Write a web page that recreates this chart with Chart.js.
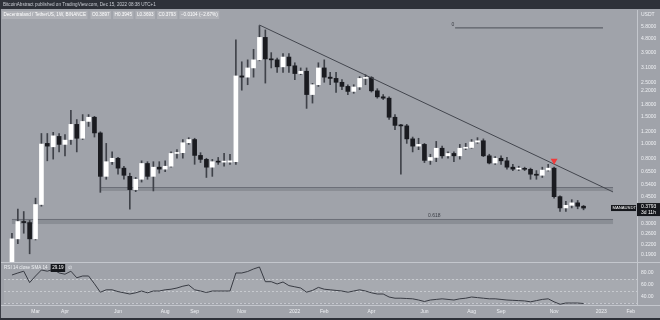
<!DOCTYPE html>
<html><head><meta charset="utf-8">
<script src="https://cdn.jsdelivr.net/npm/chart.js@4.4.1/dist/chart.umd.min.js"></script>
<style>html,body{margin:0;padding:0;background:#a0a3aa;overflow:hidden}</style>
</head><body>
<canvas id="c" width="660" height="320"></canvas>
<script>
// ---- data (weekly MANA/USDT, Binance) ----
const startWeek = '2021-02-01';
const open = [0.165,0.239,0.31,0.305,0.239,0.40,1.0,0.95,1.11,0.985,
1.06,1.33,1.08,1.39,1.48,1.17,0.61,0.76,0.80,0.69,
0.61,0.50,0.584,0.74,0.61,0.70,0.68,0.71,0.86,0.87,
1.01,1.06,0.835,0.787,0.70,0.76,0.755,0.755,0.76,2.75,
2.70,3.1,3.5,4.9,3.55,3.5,3.15,3.65,3.2,2.85,
2.95,2.08,2.41,3.1,2.7,2.65,2.5,2.35,2.18,2.33,
2.65,2.68,2.2,2.01,1.97,1.48,1.31,1.30,1.07,0.96,
0.985,0.775,0.81,0.93,0.83,0.86,0.83,0.93,0.94,1.02,
1.04,0.83,0.745,0.80,0.77,0.70,0.68,0.685,0.678,0.63,
0.62,0.67,0.69,0.45,0.38,0.395,0.41,0.3897];
const high = [0.26,0.373,0.36,0.315,0.44,1.16,1.16,1.18,1.16,1.14,
1.64,1.43,1.54,1.54,1.50,1.19,1.0,0.88,0.81,0.71,
0.64,0.60,0.77,0.76,0.76,0.76,0.77,0.88,0.91,1.06,
1.09,1.08,0.87,0.80,0.787,0.81,0.86,0.85,4.72,3.4,
3.5,4.1,5.85,5.48,3.9,3.6,3.85,3.85,3.35,3.1,
3.1,2.46,3.35,3.5,2.9,2.9,2.6,2.41,2.41,2.72,
2.8,2.72,2.27,2.08,2.01,1.54,1.33,1.33,1.10,1.08,
1.0,0.85,1.03,0.96,0.88,0.88,0.985,1.0,1.06,1.09,
1.07,0.85,0.82,0.83,0.81,0.73,0.71,0.70,0.69,0.665,
0.70,0.73,0.70,0.455,0.42,0.43,0.425,0.3945];
const low = [0.15,0.222,0.26,0.191,0.235,0.39,0.77,0.79,0.88,0.83,
0.985,0.88,1.06,1.29,1.10,0.48,0.584,0.73,0.63,0.584,
0.373,0.485,0.56,0.584,0.49,0.64,0.655,0.70,0.80,0.80,
0.985,0.731,0.75,0.60,0.61,0.73,0.71,0.73,0.73,2.22,
2.41,2.7,3.45,2.47,3.1,2.9,2.9,2.9,2.6,2.8,
1.69,1.83,2.35,2.5,2.41,2.15,2.24,2.08,2.12,2.24,
2.41,2.16,1.97,1.93,1.43,1.23,0.63,1.0,0.88,0.91,
0.75,0.73,0.76,0.80,0.80,0.76,0.79,0.91,0.93,1.0,
0.82,0.735,0.73,0.73,0.68,0.665,0.665,0.665,0.584,0.584,
0.60,0.66,0.44,0.36,0.36,0.38,0.375,0.3693];
const close = [0.239,0.31,0.305,0.239,0.40,0.99,0.96,1.12,0.985,1.05,
1.33,1.08,1.39,1.48,1.17,0.61,0.76,0.80,0.69,0.62,
0.50,0.584,0.74,0.61,0.70,0.68,0.71,0.86,0.87,1.01,
1.06,0.835,0.787,0.70,0.76,0.755,0.76,0.77,2.75,2.70,
3.1,3.5,4.9,3.55,3.5,3.15,3.65,3.2,2.85,2.95,
2.08,2.41,3.1,2.7,2.65,2.5,2.35,2.18,2.33,2.65,
2.68,2.2,2.01,1.97,1.48,1.31,1.30,1.07,0.96,0.985,
0.775,0.81,0.93,0.83,0.86,0.83,0.93,0.94,1.02,1.04,
0.83,0.745,0.80,0.77,0.70,0.68,0.685,0.678,0.63,0.62,
0.67,0.69,0.45,0.38,0.395,0.41,0.3897,0.3793];
const rsi = [76.7,80,83,64,75,85,83,86,80,78,
83,72,75,75,62,48,52,52,49,47,
45,47,50,47,50,50,52,53,55,58,
60,52,50,47.5,50,50,50,50,80,80,
82.5,86.7,90,65.5,65.5,61.7,65,59,57,55,
48,51,56,53,52,51,50,48,50,52,
50,47,45,45,40,38,38,37.5,37,35,
32.5,35,36,37,36,35,37,38,40,39,
38,37,37,36,35,34.5,34,33.5,32,34,
36,37,32,28,30,30,30,29.19];
const priceTicks = [5.8,4.8,3.9,3.1,2.5,2.2,1.8,1.5,1.2,1.0,0.8,0.65,0.54,0.45,0.3,0.26,0.22,0.19];
const rsiTicks = [80,60,40];
const rsiLevels = [70,50,30];
const timeTickDates = ['2021-03-01','2021-04-05','2021-06-07','2021-08-02','2021-09-06','2021-11-01','2022-01-03','2022-02-07','2022-04-04','2022-06-06','2022-08-01','2022-09-05','2022-11-07','2023-01-02','2023-02-06'];
const timeTickLabels = ['Mar','Apr','Jun','Aug','Sep','Nov','2022','Feb','Apr','Jun','Aug','Sep','Nov','2023','Feb'];
const trendFrom = [42, 5.9];
const trendTo = [102, 0.483];
const zoneFrom = [15, 0];
const zoneTo = [102, 102];
const zoneHi = [0.52, 0.322];
const zoneLo = [0.49, 0.2985];
const fibLabels = ['0', '0.618'];
const fibLabelAt = [[74.6, 5.65], [70.6, 0.322]];
const fib0Line = [[75.2, 5.65], [100.3, 5.65]];
const signalAt = [92, 0.77];

// ---- derived ----
const DAY = 864e5;
const t0 = Date.parse(startWeek + 'T00:00:00Z');
const idx = open.map((_, i) => i);
const weekLabels = idx.map(i => new Date(t0 + i * 7 * DAY).toISOString().slice(0, 10));
const tickIdx = timeTickDates.map(d => Math.round((Date.parse(d + 'T00:00:00Z') - t0) / (7 * DAY)));
const last = close.length - 1;
const chg = close[last] - close[last - 1];

const FONT = "'Liberation Sans','DejaVu Sans',sans-serif";
const AXIS_TXT = '#eef0f3';
const LINE_C = '#c4c7cd';

const paneClip = {
  id: 'paneClip',
  beforeDatasetDraw(chart, args) {
    const ys = args.meta.yScale, ca = chart.chartArea, ctx = chart.ctx;
    ctx.save(); ctx.beginPath();
    ctx.rect(ca.left, ys.top, ca.right - ca.left, ys.bottom - ys.top); ctx.clip();
  },
  afterDatasetDraw(chart) { chart.ctx.restore(); }
};

function boxText(ctx, txt, x, yMid, bg, fg) {
  const w = ctx.measureText(txt).width + 3;
  ctx.fillStyle = bg; ctx.fillRect(x, yMid - 4, w, 8);
  ctx.fillStyle = fg; ctx.fillText(txt, x + 1.5, yMid);
  return x + w;
}

const deco = {
  id: 'deco',
  beforeDraw(chart) {
    const {ctx, width, height} = chart;
    ctx.save();
    ctx.fillStyle = '#a0a3aa'; ctx.fillRect(0, 0, width, height);
    ctx.fillStyle = '#2e3139'; ctx.fillRect(0, 0, width, 9);
    ctx.fillRect(0, 318, width, 2);
    ctx.restore();
  },
  beforeDatasetsDraw(chart) {
    const {ctx, scales: {x, y, rsi: r}, chartArea: ca} = chart;
    ctx.save();
    zoneHi.forEach((hi, k) => {
      const x0 = x.getPixelForValue(zoneFrom[k]), x1 = x.getPixelForValue(zoneTo[k]);
      const y0 = y.getPixelForValue(hi), y1 = y.getPixelForValue(zoneLo[k]);
      ctx.fillStyle = 'rgba(70,74,84,0.24)';
      ctx.fillRect(x0, y0, x1 - x0, y1 - y0);
      ctx.strokeStyle = 'rgba(70,74,84,0.45)'; ctx.lineWidth = 1;
      ctx.beginPath(); ctx.moveTo(x0, Math.round(y0) + 0.5); ctx.lineTo(x1, Math.round(y0) + 0.5); ctx.stroke();
    });
    const b0 = r.getPixelForValue(rsiLevels[0]), b1 = r.getPixelForValue(rsiLevels[2]);
    ctx.fillStyle = 'rgba(255,255,255,0.08)';
    ctx.fillRect(ca.left, b0, ca.right - ca.left, b1 - b0);
    ctx.strokeStyle = 'rgba(225,228,234,0.55)'; ctx.setLineDash([2, 2]);
    rsiLevels.forEach(v => {
      const yy = Math.round(r.getPixelForValue(v)) + 0.5;
      ctx.beginPath(); ctx.moveTo(ca.left, yy); ctx.lineTo(ca.right, yy); ctx.stroke();
    });
    ctx.setLineDash([]);
    ctx.restore();
  },
  afterDatasetsDraw(chart) {
    const {ctx, scales: {x, y, rsi: r}, width} = chart;
    ctx.save();
    ctx.strokeStyle = LINE_C; ctx.lineWidth = 1;
    const sy = Math.round(y.bottom) + 0.5;
    ctx.beginPath(); ctx.moveTo(0, sy); ctx.lineTo(width, sy); ctx.stroke();
    const ty = Math.round(r.bottom) + 0.5;
    ctx.beginPath(); ctx.moveTo(0, ty); ctx.lineTo(width, ty); ctx.stroke();
    ctx.strokeStyle = '#3a3d45';
    ctx.beginPath(); ctx.moveTo(0.5, 9); ctx.lineTo(0.5, 318); ctx.stroke();
    ctx.fillStyle = '#3a3d45'; ctx.font = '5px ' + FONT; ctx.textBaseline = 'bottom'; ctx.textAlign = 'left';
    fibLabels.forEach((t, k) => {
      ctx.fillText(t, x.getPixelForValue(fibLabelAt[k][0]), y.getPixelForValue(fibLabelAt[k][1]) - 1);
    });
    const py = y.getPixelForValue(close[last]);
    ctx.fillStyle = '#15171c';
    ctx.fillRect(611, py - 3, 25, 6);
    ctx.fillRect(637, py - 5, 23, 13);
    ctx.fillStyle = '#ffffff'; ctx.textBaseline = 'middle';
    ctx.font = '4.2px ' + FONT;
    ctx.fillText('MANAUSDT', 612.5, py);
    ctx.font = '5px ' + FONT;
    ctx.fillText(close[last].toFixed(4), 641, py - 1);
    ctx.fillText('3d 11h', 641, py + 5);
    ctx.fillStyle = AXIS_TXT;
    ctx.fillText('USDT', 641, 15);
    ctx.font = '4.6px ' + FONT;
    ctx.fillStyle = '#eef0f3';
    const lt = 'RSI 14 close SMA 14';
    ctx.fillText(lt, 4, r.top + 6);
    let lx = 4 + ctx.measureText(lt).width + 3;
    lx = boxText(ctx, rsi[last].toFixed(2), lx, r.top + 6, '#15171c', '#ffffff');
    ctx.fillStyle = '#eef0f3'; ctx.fillText('∅', lx + 3, r.top + 6);
    ctx.restore();
  },
  afterDraw(chart) {
    const {ctx} = chart;
    ctx.save();
    ctx.font = '4.6px ' + FONT; ctx.textBaseline = 'middle'; ctx.textAlign = 'left';
    ctx.fillStyle = '#c9ccd3';
    ctx.fillText('BitcoinAbstract published on TradingView.com, Dec 15, 2022 08:38 UTC+1', 3, 4.5);
    let px = boxText(ctx, 'Decentraland / TetherUS, 1W, BINANCE', 2, 15, 'rgba(255,255,255,0.16)', '#ffffff') + 3;
    const sg = chg < 0 ? '−' : '+';
    const vals = ['O' + open[last].toFixed(4), 'H' + high[last].toFixed(4), 'L' + low[last].toFixed(4), 'C' + close[last].toFixed(4),
      sg + Math.abs(chg).toFixed(4) + ' (' + sg + Math.abs(chg / close[last - 1] * 100).toFixed(2) + '%)'];
    vals.forEach(v => { px = boxText(ctx, v, px, 15, 'rgba(255,255,255,0.16)', '#ffffff') + 2; });
    ctx.restore();
  }
};

const bodyColor = idx.map(i => close[i] >= open[i] ? '#ffffff' : '#1a1b20');

new Chart(document.getElementById('c'), {
  type: 'bar',
  data: {
    datasets: [
      { label: 'signal', type: 'line', yAxisID: 'y', data: [{x: signalAt[0], y: signalAt[1]}], showLine: false,
        pointStyle: 'triangle', rotation: 180, pointRadius: 4, backgroundColor: '#ef3b3b', borderColor: '#ef3b3b', borderWidth: 0, order: 0 },
      { label: 'trend', type: 'line', yAxisID: 'y', data: [{x: trendFrom[0], y: trendFrom[1]}, {x: trendTo[0], y: trendTo[1]}],
        borderColor: '#43464e', borderWidth: 1, pointRadius: 0, order: 1 },
      { label: 'fib0', type: 'line', yAxisID: 'y', data: fib0Line.map(p => ({x: p[0], y: p[1]})),
        borderColor: '#4c5058', borderWidth: 1, pointRadius: 0, order: 1 },
      { label: 'body', yAxisID: 'y', data: idx.map(i => ({x: i, y: [open[i], close[i]]})), backgroundColor: bodyColor,
        barThickness: 4, minBarLength: 1, grouped: false, order: 2 },
      { label: 'wick', yAxisID: 'y', data: idx.map(i => ({x: i, y: [low[i], high[i]]})), backgroundColor: '#3f4249',
        barThickness: 1, grouped: false, order: 3 },
      { label: 'RSI', type: 'line', yAxisID: 'rsi', data: idx.map(i => ({x: i, y: rsi[i]})),
        borderColor: '#383b43', borderWidth: 1, pointRadius: 0, tension: 0, order: 1 }
    ]
  },
  options: {
    responsive: false, animation: false, devicePixelRatio: 1,
    layout: { padding: { top: 10, bottom: 2, left: 0, right: 0 } },
    plugins: { legend: { display: false }, tooltip: { enabled: false } },
    scales: {
      x: {
        type: 'linear', position: 'bottom', min: -1.35, max: 106.07, offset: false,
        grid: { display: false, drawTicks: false, offset: false }, border: { display: false },
        ticks: { autoSkip: false, maxRotation: 0, padding: 4, color: AXIS_TXT, font: { size: 5, family: FONT },
          callback: (v) => { const k = tickIdx.indexOf(v); return k >= 0 ? timeTickLabels[k] : ''; } },
        afterBuildTicks: s => { s.ticks = tickIdx.map(v => ({value: v})); },
        afterFit: s => { s.height = 13; }
      },
      y: {
        type: 'logarithmic', position: 'right', stack: 'pane', stackWeight: 252, weight: 0,
        min: 0.1689, max: 7.39,
        grid: { display: false, drawTicks: false }, border: { display: true, color: LINE_C },
        ticks: { autoSkip: false, padding: 4, color: AXIS_TXT, font: { size: 5, family: FONT },
          callback: v => Number(v).toFixed(4) },
        afterBuildTicks: s => { s.ticks = priceTicks.map(v => ({value: v})); },
        afterFit: s => { s.width = 23; }
      },
      rsi: {
        type: 'linear', position: 'right', stack: 'pane', stackWeight: 43, weight: 1,
        min: 26.7, max: 98.3,
        grid: { display: false, drawTicks: false }, border: { display: true, color: LINE_C },
        ticks: { autoSkip: false, padding: 4, color: AXIS_TXT, font: { size: 5, family: FONT },
          callback: v => Number(v).toFixed(2) },
        afterBuildTicks: s => { s.ticks = rsiTicks.map(v => ({value: v})); },
        afterFit: s => { s.width = 23; }
      }
    }
  },
  plugins: [deco, paneClip]
});
</script>
</body></html>
